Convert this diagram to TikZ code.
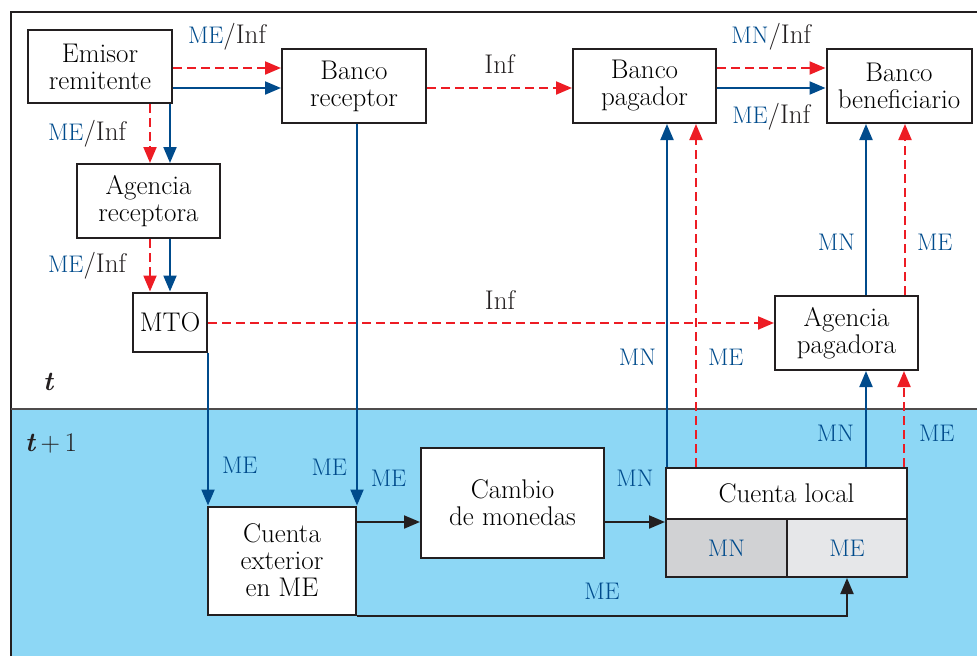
\documentclass[tikz,border=0pt]{standalone}
\usepackage{tikz}
\usetikzlibrary{arrows.meta,positioning,calc}
\definecolor{monblue}{RGB}{0,75,140}
\definecolor{infred}{RGB}{237,28,36}
\definecolor{skyfill}{RGB}{141,215,245}
\definecolor{boxline}{RGB}{35,31,32}
\definecolor{mngray}{RGB}{209,210,212}
\definecolor{megray}{RGB}{230,231,233}
\newcommand{\mon}[1]{{\fontsize{24}{26}\selectfont\color{monblue}#1}}

\begin{document}
\begin{tikzpicture}[x=1pt, y=-1pt,
    box/.style={draw=boxline, line width=2pt, fill=white, align=center, inner sep=0pt, font=\fontsize{27}{27}\selectfont},
    cell/.style={draw=boxline, line width=2pt, align=center, inner sep=0pt},
    money/.style={-{Triangle[length=16pt, width=13pt]}, line width=2pt, draw=monblue},
    info/.style={-{Triangle[length=16pt, width=13pt]}, line width=2pt, draw=infred, dash pattern=on 9pt off 5pt},
    flow/.style={-{Triangle[length=16pt, width=13pt]}, line width=2pt, draw=boxline},
    lbl/.style={inner sep=1pt, font=\fontsize{27}{27}\selectfont, text=boxline}
]
\useasboundingbox (0,0) rectangle (977,656);

% --- Background: period t (white) and period t+1 (blue) ---
\fill[skyfill] (11,409) rectangle (977,656);
\draw[boxline, line width=2pt] (11,656) -- (11,12) -- (977,12);
\draw[boxline!80, line width=1.5pt] (11,409) -- (977,409);
\node[lbl] (tnow)  at (48,382) {\bfseries\itshape t};
\node[lbl] (tnext) at (51,443) {\textbf{\textit{t}}\,+\,1};

% --- Top row: sender and banks ---
\node[box, minimum width=144, minimum height=73] (emisor) at (100,66.5) {Emisor\\remitente};
\node[box, minimum width=144, minimum height=74] (brec)   at (354,86)   {Banco\\receptor};
\node[box, minimum width=143, minimum height=74] (bpag)   at (644.5,86) {Banco\\pagador};
\node[box, minimum width=145, minimum height=74] (bben)   at (899,86)   {Banco\\beneficiario};

% --- Left column: agencies ---
\node[box, minimum width=143, minimum height=74] (arec) at (148.5,201) {Agencia\\receptora};
\node[box, minimum width=74,  minimum height=59] (mto)  at (170,322)   {MTO};
\node[box, minimum width=143, minimum height=74] (apag) at (846.5,333) {Agencia\\pagadora};

% --- Bottom row: accounts ---
\node[box, minimum width=148, minimum height=108] (cext)   at (282,560.5) {Cuenta\\exterior\\en ME};
\node[box, minimum width=183, minimum height=110] (cambio) at (512.5,503) {Cambio\\de monedas};
\node[box, minimum width=241, minimum height=51]  (cltop)  at (786.5,493.5) {Cuenta local};
\node[cell, fill=mngray, minimum width=121, minimum height=58] (clmn) at (726.5,548) {\mon{MN}};
\node[cell, fill=megray, minimum width=120, minimum height=58] (clme) at (847,548)   {\mon{ME}};

% === Sender side ===
\draw[info]  ([yshift=-1.5pt]emisor.east) -- node[lbl, above=15.5pt] (l1) {\mon{ME}/Inf} ([yshift=18pt]brec.west);
\draw[money] ([yshift=-21.5pt]emisor.east) -- ([yshift=-2pt]brec.west);
\draw[info]  ([xshift=50pt]emisor.south) -- node[lbl, left=22pt] (l2) {\mon{ME}/Inf} ([xshift=1.5pt]arec.north);
\draw[money] ([xshift=70pt]emisor.south) -- ([xshift=21.5pt]arec.north);
\draw[info]  ([xshift=1.5pt]arec.south) -- node[lbl, left=22pt] (l3) {\mon{ME}/Inf} ([xshift=-20pt]mto.north);
\draw[money] ([xshift=21.5pt]arec.south) -- (mto.north);

% === Between banks ===
\draw[info]  ([yshift=-2pt]brec.east) -- node[lbl, above=13pt] (l4) {Inf} ([yshift=-2pt]bpag.west);
\draw[info]  ([yshift=18pt]bpag.east) -- node[lbl, above=15.5pt] (l5) {\mon{MN}/Inf} ([yshift=18pt]bben.west);
\draw[money] ([yshift=-2pt]bpag.east) -- node[lbl, below=13.5pt] (l6) {\mon{ME}/Inf} ([yshift=-2pt]bben.west);
\draw[info]  ([yshift=-1pt]mto.east) -- node[lbl, above=12pt, xshift=9pt] (l7) {Inf} ([yshift=10pt]apag.west);

% === Paying agency to beneficiary bank ===
\draw[money] ([xshift=19.5pt]apag.north) -- node[lbl, left=9pt, pos=0.31] (l8) {\mon{MN}} ([xshift=-33pt]bben.south);
\draw[info]  ([xshift=58.5pt]apag.north) -- node[lbl, right=10pt, pos=0.31] (l9) {\mon{ME}} ([xshift=6pt]bben.south);

% === Local account upwards ===
\draw[money] ([xshift=-119.5pt]cltop.north) -- node[lbl, left=9pt, pos=0.32] (l10) {\mon{MN}} ([xshift=22.5pt]bpag.south);
\draw[info]  ([xshift=-90.5pt]cltop.north) -- node[lbl, right=10pt, pos=0.32] (l11) {\mon{ME}} ([xshift=51.5pt]bpag.south);
\draw[money] ([xshift=79.5pt]cltop.north) -- node[lbl, left=10pt, pos=0.35] (l12) {\mon{MN}} ([xshift=19.5pt]apag.south);
\draw[info]  ([xshift=117.5pt]cltop.north) -- node[lbl, right=13pt, pos=0.35] (l13) {\mon{ME}} ([xshift=57.5pt]apag.south);

% === Into the foreign account ===
\draw[money] (mto.south east) -- node[lbl, right=12pt, pos=0.74] (l14) {\mon{ME}} (mto.south east |- cext.north);
\draw[money] (brec.south -| cext.north east) -- node[lbl, left=8pt, pos=0.9] (l15) {\mon{ME}} (cext.north east);

% === Currency exchange (black) ===
\draw[flow] ([yshift=38.5pt]cext.east) -- node[lbl, above=34pt] (l16) {\mon{ME}} ([yshift=-19pt]cambio.west);
\draw[flow] ([yshift=-19pt]cambio.east) -- node[lbl, above=34pt] (l17) {\mon{MN}} ([yshift=26pt]clmn.west);
\draw[flow] (cext.south east) -| node[lbl, above=14pt, pos=0.25] (l18) {\mon{ME}} (clme.south);
\end{tikzpicture}
\end{document}
